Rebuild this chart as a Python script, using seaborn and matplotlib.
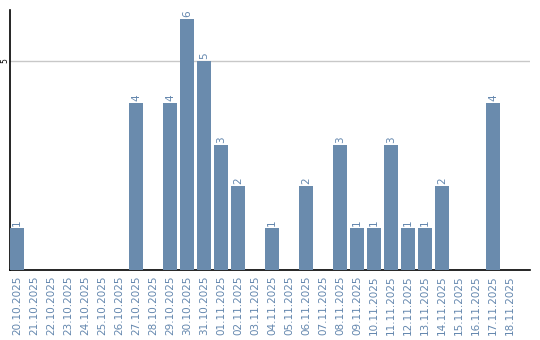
import matplotlib
matplotlib.use("Agg")
import matplotlib.pyplot as plt
import seaborn as sns
import pandas as pd

dates = ["20.10.2025", "21.10.2025", "22.10.2025", "23.10.2025", "24.10.2025",
         "25.10.2025", "26.10.2025", "27.10.2025", "28.10.2025", "29.10.2025",
         "30.10.2025", "31.10.2025", "01.11.2025", "02.11.2025", "03.11.2025",
         "04.11.2025", "05.11.2025", "06.11.2025", "07.11.2025", "08.11.2025",
         "09.11.2025", "10.11.2025", "11.11.2025", "12.11.2025", "13.11.2025",
         "14.11.2025", "15.11.2025", "16.11.2025", "17.11.2025", "18.11.2025"]
counts = [1, 0, 0, 0, 0, 0, 0, 4, 0, 4,
          6, 5, 3, 2, 0, 1, 0, 2, 0, 3,
          1, 1, 3, 1, 1, 2, 0, 0, 4, 0]

df = pd.DataFrame({"date": dates, "count": counts})

sns.set_style("white")
plt.rcParams["font.family"] = ["DejaVu Sans"]

blue = "#6a8bad"
label_blue = "#6487ae"

fig = plt.figure(figsize=(5.4, 3.4), dpi=100)
ax = fig.add_axes([10 / 540, 1 - 270 / 340, 520 / 540, 260 / 340])

sns.barplot(data=df, x="date", y="count", color=blue, width=14 / 17,
            saturation=1, ax=ax, zorder=3, linewidth=0, edgecolor="none")

ax.set_xlim(-0.5 + 1.5 / 17, 30.18)
ax.set_ylim(0, 6.22)
ax.set_yticks([5])
ax.set_yticklabels(["5"], rotation=90, va="center", fontsize=5.5, color="black")
ax.yaxis.grid(True, color="#c8c8c8", linewidth=1, zorder=0)
ax.set_xlabel("")
ax.set_ylabel("")
ax.tick_params(axis="x", length=0, pad=4)
ax.tick_params(axis="y", length=0, pad=0.5)
ax.set_xticks(range(len(dates)))
ax.set_xticklabels(dates, rotation=90, fontsize=7.5, color=label_blue)

for s in ["top", "right"]:
    ax.spines[s].set_visible(False)
for s in ["left", "bottom"]:
    ax.spines[s].set_visible(True)
    ax.spines[s].set_color("black")
    ax.spines[s].set_linewidth(1.2)

for i, v in enumerate(counts):
    if v > 0:
        ax.text(i, v + 0.05, str(v), rotation=90, ha="center", va="bottom",
                fontsize=7.5, color=label_blue)

fig.savefig("out.png", dpi=100)
